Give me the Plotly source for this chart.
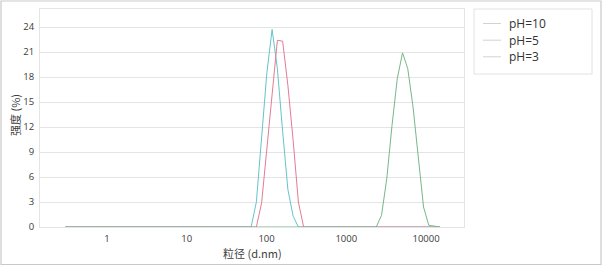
import plotly.graph_objects as go

# ---- data ----
series_names = ["pH=10", "pH=5", "pH=3"]

ph10_size = [0.3, 64.1, 74.6, 86.8, 101.0, 117.5, 136.8, 159.2, 185.3, 215.6, 251.0, 15000]
ph10_int = [0, 0, 3.0, 11.0, 18.5, 23.7, 19.0, 11.5, 4.5, 1.3, 0, 0]

ph5_size = [0.3, 74.6, 86.8, 101.0, 117.5, 136.8, 159.2, 185.3, 215.6, 251.0, 292.0, 15000]
ph5_int = [0, 0, 2.9, 9.3, 15.8, 22.4, 22.3, 17.0, 10.4, 3.0, 0, 0]

ph3_size = [0.3, 2376, 2766, 3219, 3746, 4359, 5073, 5904, 6871, 7996, 9306, 10830, 15000]
ph3_int = [0, 0, 1.4, 5.8, 12.2, 17.8, 20.9, 19.0, 14.4, 8.5, 2.4, 0.2, 0]

y_ticks = [0, 3, 6, 9, 12, 15, 18, 21, 24]
x_ticks = [1, 10, 100, 1000, 10000]
x_tick_labels = ["1", "10", "100", "1000", "10000"]

colors = ["#66c3ca", "#e47b95", "#78b68a"]

# ---- layout geometry (pixels) ----
W, H = 602, 267
PL, PR, PT, PB = 40, 464, 9, 227


def px(x):
    return (x - PL) / (PR - PL)


def py(y):
    return (PB - y) / (PB - PT)


fig = go.Figure()
for name, xs, ys, c in zip(series_names,
                           [ph10_size, ph5_size, ph3_size],
                           [ph10_int, ph5_int, ph3_int], colors):
    fig.add_trace(go.Scatter(x=xs, y=ys, mode="lines", name=name,
                             line=dict(color=c, width=1),
                             showlegend=False, hoverinfo="skip"))

tick_font = dict(family="Open Sans", size=9.5, color="#3a3a3a")

fig.update_layout(
    width=W, height=H,
    margin=dict(l=PL, r=W - PR, t=PT, b=H - PB),
    paper_bgcolor="white", plot_bgcolor="white",
    showlegend=False,
    xaxis=dict(type="log", range=[-0.84, 4.476],
               tickvals=x_ticks, ticktext=x_tick_labels,
               showgrid=False, zeroline=False,
               showline=True, mirror=True, linecolor="#e4e4e4", linewidth=1,
               ticks="outside", ticklen=3, tickcolor="rgba(0,0,0,0)",
               tickfont=tick_font),
    yaxis=dict(range=[0, 26.16], tickvals=y_ticks,
               showgrid=True, gridcolor="#e4e4e4", gridwidth=1,
               zeroline=False,
               showline=True, mirror=True, linecolor="#e4e4e4", linewidth=1,
               ticks="outside", ticklen=3, tickcolor="rgba(0,0,0,0)",
               tickfont=tick_font),
)

shapes = []
annotations = []

# outer border of the whole picture
shapes.append(dict(type="rect", xref="paper", yref="paper",
                   x0=px(1), x1=px(601), y0=py(1), y1=py(264.5),
                   line=dict(color="#c9c9c9", width=1.2), layer="below"))

# legend box
shapes.append(dict(type="rect", xref="paper", yref="paper",
                   x0=px(474), x1=px(592), y0=py(9), y1=py(74),
                   line=dict(color="#e2e2e2", width=1), fillcolor="white"))
rows = [23.5, 40.2, 56.8]
for name, ry in zip(series_names, rows):
    shapes.append(dict(type="line", xref="paper", yref="paper",
                       x0=px(483), x1=px(501), y0=py(ry), y1=py(ry),
                       line=dict(color="#d2d2d2", width=1)))
    annotations.append(dict(text=name, xref="paper", yref="paper",
                            x=px(507), y=py(ry), xanchor="left", yanchor="middle",
                            showarrow=False,
                            font=dict(family="Open Sans", size=12, color="#333333")))

# axis titles
annotations.append(dict(text="强度 (%)", xref="paper", yref="paper",
                        x=px(15), y=py(115), textangle=-90,
                        xanchor="center", yanchor="middle", showarrow=False,
                        font=dict(family="Noto Sans CJK SC", size=11, color="#404040")))
annotations.append(dict(text="粒径 (d.nm)", xref="paper", yref="paper",
                        x=px(252), y=py(253),
                        xanchor="center", yanchor="middle", showarrow=False,
                        font=dict(family="Noto Sans CJK SC", size=11, color="#404040")))

fig.update_layout(shapes=shapes, annotations=annotations)

fig.write_html("out.html")
